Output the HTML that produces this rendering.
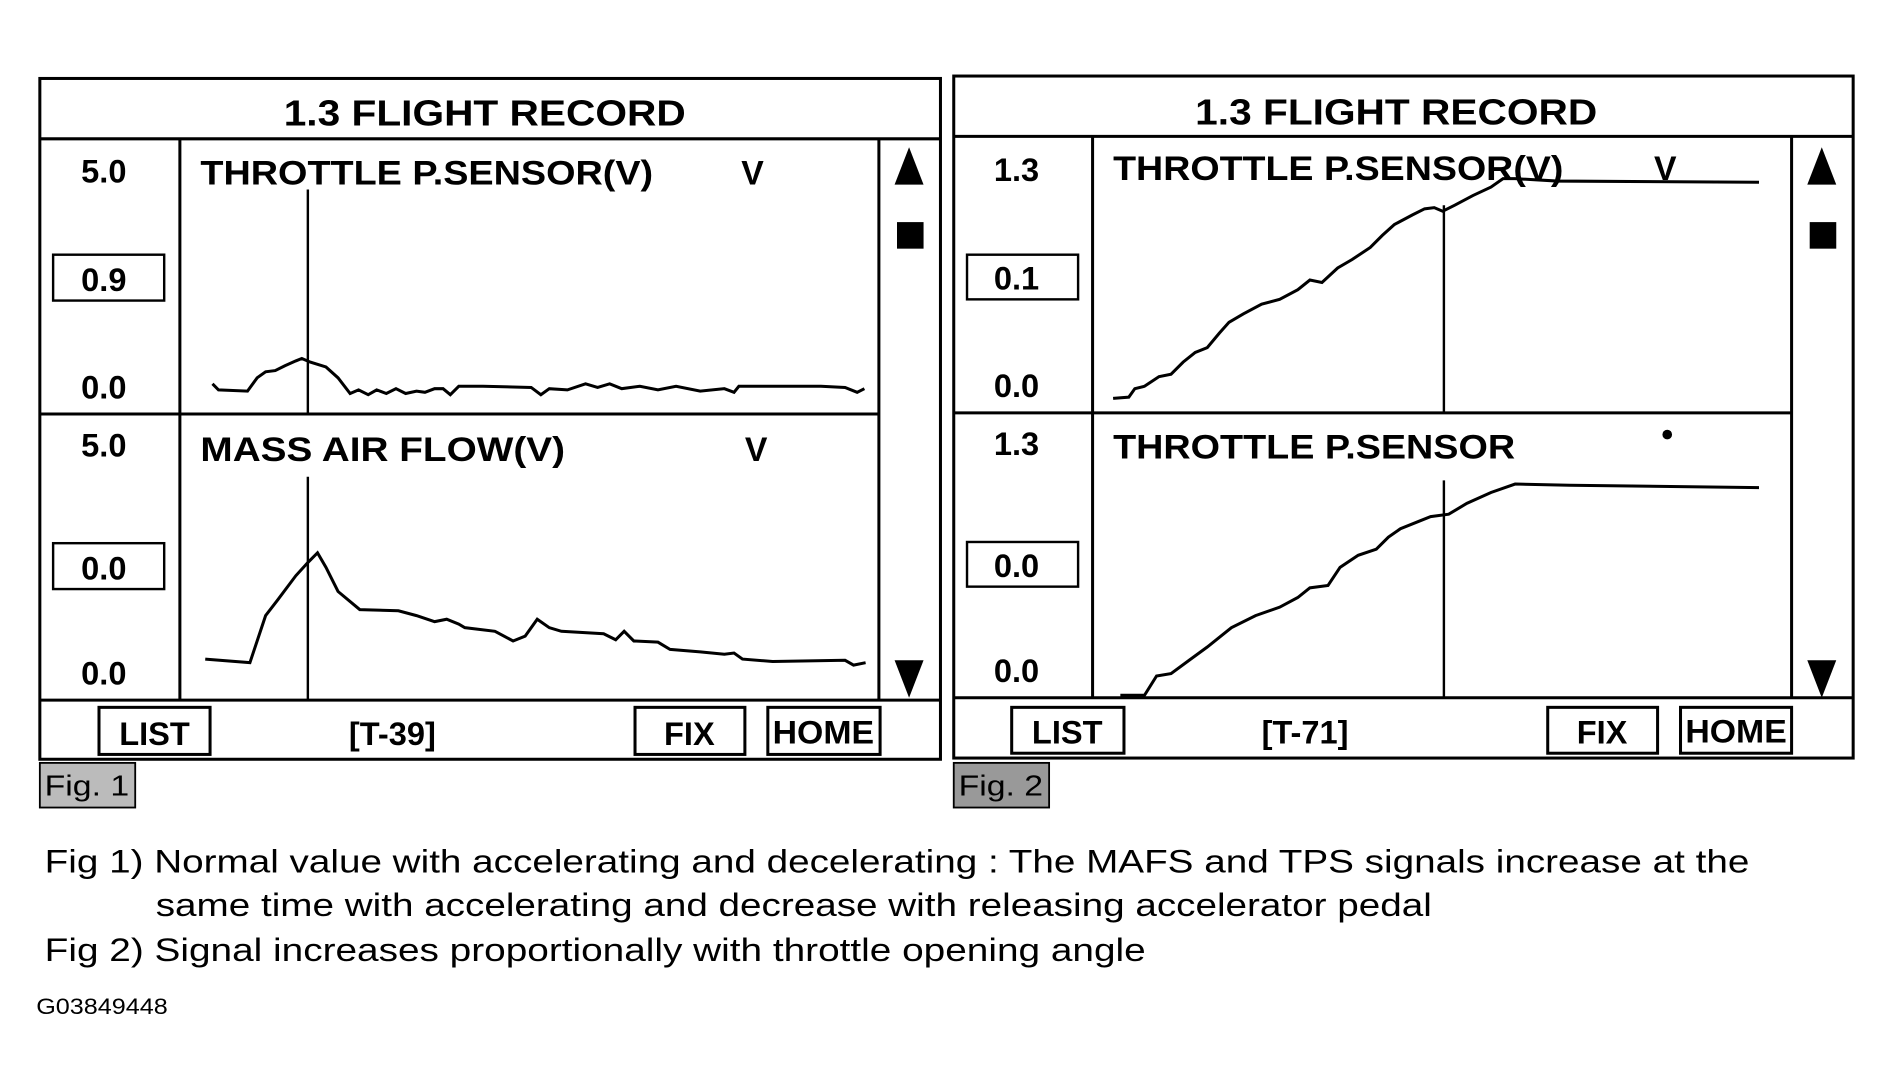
<!DOCTYPE html>
<html><head><style>html,body{margin:0;padding:0;background:#fff;}svg{display:block}</style></head>
<body>
<svg width="1893" height="1090" viewBox="0 0 1568 903" preserveAspectRatio="none" xmlns="http://www.w3.org/2000/svg" font-family="'Liberation Sans Narrow','Liberation Sans',sans-serif">
<rect width="1568" height="903" fill="#fff"/>
<g fill="none" stroke="#000" stroke-width="2.5">
<!-- panel 1 -->
<rect x="33" y="65" width="746" height="564"/>
<line x1="33" y1="115" x2="779" y2="115"/>
<line x1="149" y1="115" x2="149" y2="580"/>
<line x1="728" y1="115" x2="728" y2="580"/>
<line x1="33" y1="343" x2="728" y2="343"/>
<line x1="33" y1="580" x2="779" y2="580"/>
<rect x="82" y="586" width="92" height="39"/>
<rect x="526" y="586" width="91" height="39"/>
<rect x="636" y="586" width="93" height="39"/>
<rect x="44" y="211" width="92" height="38" stroke-width="2"/>
<rect x="44" y="450" width="92" height="38" stroke-width="2"/>
<line x1="255" y1="157" x2="255" y2="343" stroke-width="2"/>
<line x1="255" y1="395" x2="255" y2="580" stroke-width="2"/>
<!-- panel 2 -->
<rect x="790" y="63" width="745" height="565"/>
<line x1="790" y1="113" x2="1535" y2="113"/>
<line x1="905" y1="113" x2="905" y2="578"/>
<line x1="1484" y1="113" x2="1484" y2="578"/>
<line x1="790" y1="342" x2="1484" y2="342"/>
<line x1="790" y1="578" x2="1535" y2="578"/>
<rect x="838" y="586" width="93" height="38"/>
<rect x="1282" y="586" width="91" height="38"/>
<rect x="1392" y="586" width="92" height="38"/>
<rect x="801" y="211" width="92" height="37" stroke-width="2"/>
<rect x="801" y="449" width="92" height="37" stroke-width="2"/>
<line x1="1196" y1="170" x2="1196" y2="342" stroke-width="2"/>
<line x1="1196" y1="398" x2="1196" y2="578" stroke-width="2"/>
<!-- traces -->
<polyline points="176,318 181,323 205,324 213,313 220,308 228,307 236,303 245,299 250,297 257,300 270,304 280,313 290,326 297,323 305,327 312,323 320,326 328,322 336,326 345,324 352,325 360,322 367,322 373,327 380,320 400,320 440,321 448,327 455,322 470,323 485,318 495,321 505,318 515,322 530,320 545,323 560,320 580,324 600,322 608,325 612,320 680,320 700,321 710,325 716,322"/>
<polyline points="170,546 207,549 220,510 230,497 245,477 255,466 263,458 270,470 280,490 298,505 330,506 345,510 360,515 370,513 380,517 385,520 410,523 425,531 435,527 445,513 455,520 465,523 500,525 510,530 517,523 525,531 545,532 555,538 580,540 600,542 608,541 615,546 640,548 700,547 707,551 717,549"/>
<polyline points="922,330 935,329 940,322 948,320 960,312 970,310 980,300 990,292 1000,288 1010,276 1018,267 1030,260 1045,252 1060,248 1075,240 1085,232 1095,234 1108,222 1120,215 1135,205 1145,195 1155,186 1170,178 1180,173 1188,172 1195,175 1205,170 1220,162 1235,155 1245,148 1255,148 1290,150 1457,151"/>
<polyline points="928,576 948,576 958,560 970,558 985,547 1000,536 1020,520 1040,510 1060,503 1075,495 1085,487 1100,485 1110,470 1125,460 1140,455 1150,445 1160,438 1175,432 1185,428 1200,426 1215,417 1235,408 1255,401 1300,402 1457,404"/>
</g>
<!-- scroll icons -->
<g fill="#000">
<polygon points="753,122 741,153 765,153"/><rect x="743" y="184" width="22" height="22"/><polygon points="741,547 765,547 753,578"/>
<polygon points="1509,122 1497,153 1521,153"/><rect x="1499" y="184" width="22" height="22"/><polygon points="1497,547 1521,547 1509,578"/>
<circle cx="1381" cy="360" r="4"/>
</g>
<rect x="33" y="632" width="79" height="37" fill="#bbb" stroke="#000" stroke-width="1.5"/>
<rect x="790" y="632" width="79" height="37" fill="#999" stroke="#000" stroke-width="1.5"/>
<g font-weight="bold" fill="#000" font-size="30">
<text x="235" y="104" textLength="333" lengthAdjust="spacingAndGlyphs">1.3 FLIGHT RECORD</text>
<text x="990" y="103" textLength="333" lengthAdjust="spacingAndGlyphs">1.3 FLIGHT RECORD</text>
</g>
<g font-weight="bold" fill="#000" font-size="28">
<text x="166" y="153" textLength="375" lengthAdjust="spacingAndGlyphs">THROTTLE P.SENSOR(V)</text>
<text x="614" y="153">V</text>
<text x="166" y="382" textLength="302" lengthAdjust="spacingAndGlyphs">MASS AIR FLOW(V)</text>
<text x="617" y="382">V</text>
<text x="922" y="149" textLength="373" lengthAdjust="spacingAndGlyphs">THROTTLE P.SENSOR(V)</text>
<text x="1370" y="149">V</text>
<text x="922" y="380" textLength="333" lengthAdjust="spacingAndGlyphs">THROTTLE P.SENSOR</text>
</g>
<g font-weight="bold" fill="#000" font-size="27" text-anchor="middle">
<text x="86" y="151">5.0</text><text x="86" y="241">0.9</text><text x="86" y="330">0.0</text>
<text x="86" y="378">5.0</text><text x="86" y="480">0.0</text><text x="86" y="567">0.0</text>
<text x="842" y="150">1.3</text><text x="842" y="240">0.1</text><text x="842" y="329">0.0</text>
<text x="842" y="377">1.3</text><text x="842" y="478">0.0</text><text x="842" y="565">0.0</text>
<text x="128" y="617">LIST</text><text x="325" y="617">[T-39]</text><text x="571" y="617">FIX</text><text x="682" y="616" textLength="84" lengthAdjust="spacingAndGlyphs">HOME</text>
<text x="884" y="616">LIST</text><text x="1081" y="616">[T-71]</text><text x="1327" y="616">FIX</text><text x="1438" y="615" textLength="84" lengthAdjust="spacingAndGlyphs">HOME</text>
</g>
<g fill="#000" font-size="24">
<text x="37" y="659" textLength="70" lengthAdjust="spacingAndGlyphs">Fig. 1</text>
<text x="794" y="659" textLength="70" lengthAdjust="spacingAndGlyphs">Fig. 2</text>
</g>
<g fill="#000" font-family="'Liberation Sans',sans-serif" font-size="27">
<text x="37" y="723" textLength="1412" lengthAdjust="spacingAndGlyphs">Fig 1) Normal value with accelerating and decelerating : The MAFS and TPS signals increase at the</text>
<text x="129" y="759" textLength="1057" lengthAdjust="spacingAndGlyphs">same time with accelerating and decrease with releasing accelerator pedal</text>
<text x="37" y="796" textLength="912" lengthAdjust="spacingAndGlyphs">Fig 2) Signal increases proportionally with throttle opening angle</text>
<text x="30" y="840" font-size="18" textLength="109" lengthAdjust="spacingAndGlyphs">G03849448</text>
</g>
</svg>
</body></html>
